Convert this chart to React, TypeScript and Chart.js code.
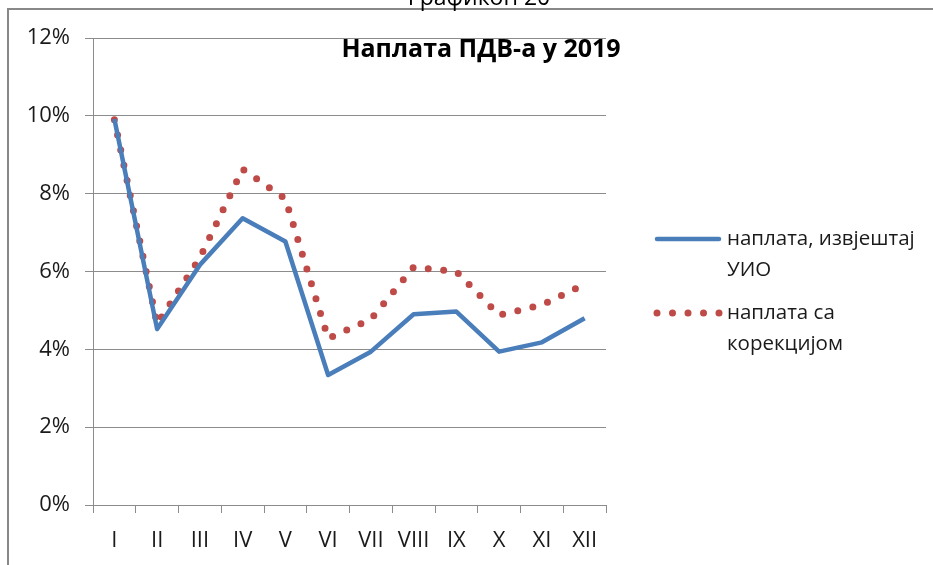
import React, { useEffect, useRef } from "react";
import { Chart, registerables } from "chart.js";

Chart.register(...registerables);

const months = ["I", "II", "III", "IV", "V", "VI", "VII", "VIII", "IX", "X", "XI", "XII"];
const reportSeries = [0.0992, 0.0452, 0.0617, 0.0737, 0.0677, 0.0334, 0.0394, 0.049, 0.0497, 0.0394, 0.0418, 0.048];
const correctedSeries = [0.099, 0.0465, 0.0635, 0.0863, 0.0787, 0.0428, 0.0477, 0.0611, 0.06, 0.0488, 0.0514, 0.0567];
const reportLabel = ["наплата, извјештај", "УИО"];
const correctedLabel = ["наплата са", "корекцијом"];
const chartTitle = "Наплата ПДВ-а у 2019";
const captionText = "Графикон 20";

const FONT = "'Open Sans', 'DejaVu Sans', sans-serif";
const BLUE = "#4a7ebb";
const RED = "#be4b48";
const GRID = "#8c8c8c";
const TEXT = "#1a1a1a";

const decor = {
  id: "decor",
  beforeDraw(chart: any) {
    const ctx = chart.ctx;
    ctx.save();
    ctx.fillStyle = "#ffffff";
    ctx.fillRect(0, 0, chart.width, chart.height);
    ctx.strokeStyle = "#888888";
    ctx.lineWidth = 2;
    ctx.beginPath();
    ctx.moveTo(8, chart.height + 5);
    ctx.lineTo(8, 9);
    ctx.lineTo(chart.width + 5, 9);
    ctx.stroke();
    ctx.fillStyle = "#000";
    ctx.font = `23px ${FONT}`;
    ctx.textAlign = "center";
    ctx.textBaseline = "alphabetic";
    ctx.fillText(captionText, 479, 5);
    ctx.restore();
  },
  afterDraw(chart: any) {
    const ctx = chart.ctx;
    ctx.save();
    ctx.fillStyle = "#000";
    ctx.font = `bold 25px ${FONT}`;
    ctx.textAlign = "center";
    ctx.textBaseline = "middle";
    ctx.fillText(chartTitle, 481, 50);

    // legend
    ctx.lineCap = "round";
    ctx.strokeStyle = BLUE;
    ctx.lineWidth = 4.5;
    ctx.beginPath();
    ctx.moveTo(657, 239);
    ctx.lineTo(719, 239);
    ctx.stroke();

    ctx.strokeStyle = RED;
    ctx.lineWidth = 7;
    ctx.setLineDash([0, 15.5]);
    ctx.beginPath();
    ctx.moveTo(657, 313);
    ctx.lineTo(721, 313);
    ctx.stroke();
    ctx.setLineDash([]);

    ctx.fillStyle = TEXT;
    ctx.font = `20.5px ${FONT}`;
    ctx.textAlign = "left";
    ctx.textBaseline = "middle";
    reportLabel.forEach((t, i) => ctx.fillText(t, 727, 239 + i * 31));
    correctedLabel.forEach((t, i) => ctx.fillText(t, 727, 313 + i * 31));
    ctx.restore();
  },
};

export default function App() {
  const ref = useRef<HTMLCanvasElement | null>(null);
  useEffect(() => {
    if (!ref.current) return;
    const chart = new Chart(ref.current, {
      type: "line",
      data: {
        labels: months,
        datasets: [
          {
            label: reportLabel.join(" "),
            data: reportSeries,
            borderColor: BLUE,
            borderWidth: 4.5,
            pointRadius: 0,
            tension: 0,
            borderJoinStyle: "round",
          },
          {
            label: correctedLabel.join(" "),
            data: correctedSeries,
            borderColor: RED,
            borderWidth: 7,
            borderDash: [0, 15.5],
            borderCapStyle: "round",
            pointRadius: 0,
            tension: 0,
          },
        ],
      },
      options: {
        responsive: false,
        animation: false,
        layout: { padding: { left: 0, right: 327, top: 38, bottom: 0 } },
        plugins: {
          legend: { display: false },
          title: { display: false },
          tooltip: { enabled: false },
        },
        scales: {
          x: {
            type: "category",
            offset: true,
            grid: {
              display: true,
              drawOnChartArea: false,
              drawTicks: true,
              tickLength: 8,
              offset: true,
              color: GRID,
            },
            border: { color: GRID, width: 1 },
            ticks: {
              color: TEXT,
              font: { family: FONT, size: 22 },
              padding: 15,
              maxRotation: 0,
              autoSkip: false,
            },
            afterFit: (s: any) => {
              s.height = 60;
            },
          },
          y: {
            min: 0,
            max: 0.12,
            grid: { color: GRID, lineWidth: 1, tickLength: 8, drawTicks: true },
            border: { color: GRID, width: 1 },
            ticks: {
              stepSize: 0.02,
              color: TEXT,
              font: { family: FONT, size: 22 },
              padding: 15,
              callback: (v: any) => Math.round(Number(v) * 100) + "%",
            },
            afterFit: (s: any) => {
              s.width = 93;
            },
          },
        },
      },
      plugins: [decor],
    });
    return () => chart.destroy();
  }, []);
  return (
    <div style={{ position: "absolute", left: 0, top: 0, width: 933, height: 565, overflow: "hidden" }}>
      <canvas ref={ref} width={933} height={565} style={{ display: "block" }} />
    </div>
  );
}
